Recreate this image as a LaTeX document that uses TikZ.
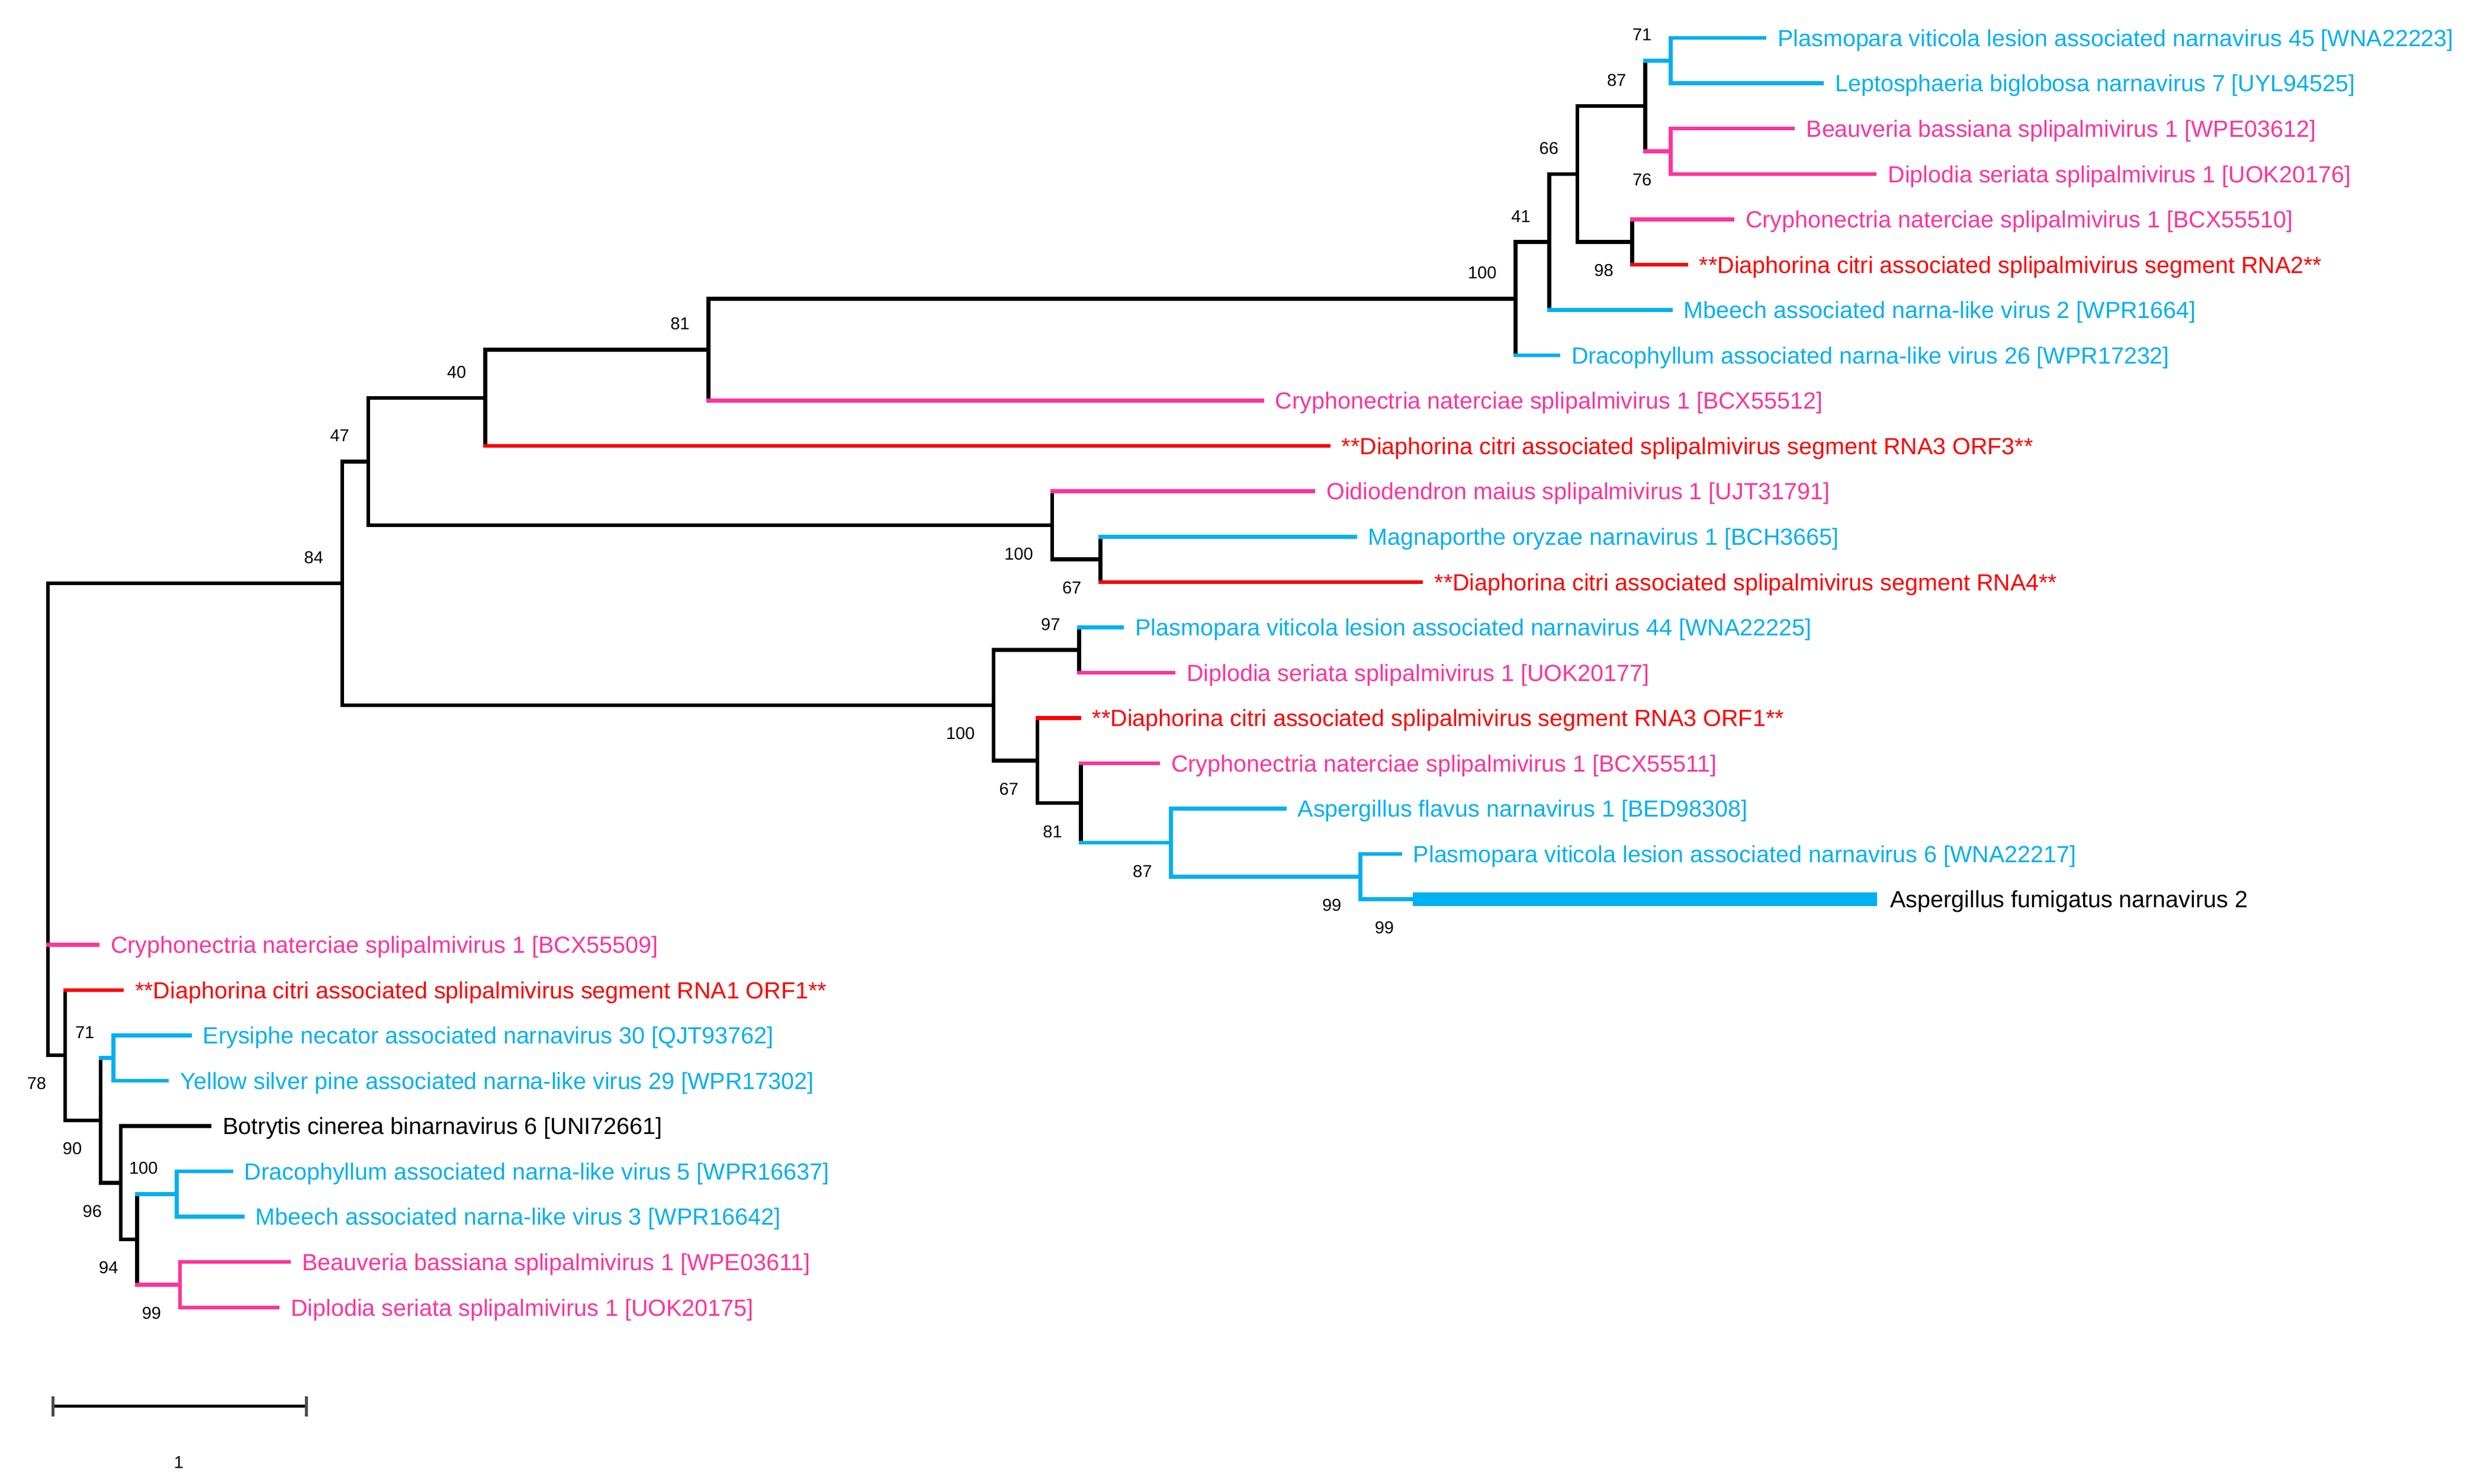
\documentclass[tikz,border=0pt]{standalone}
\usepackage{fontspec}
\setmainfont{Liberation Sans}
\definecolor{cb}{RGB}{0,176,240}
\definecolor{cp}{RGB}{255,51,153}
\definecolor{cr}{RGB}{255,0,0}
\newcommand\lf[5]{\coordinate (t#1) at (#2,#3);
  \node[lab,text=#4] (L#1) at ([xshift=4.3pt,yshift=-2.85pt]t#1) {#5};}
\newcommand\hbr[3]{\draw[br,#3] (#1 |- #2) -- (#2);}
\newcommand\vbr[4]{\draw[br,#4] (#1 |- #2) -- (#1 |- #3);}
\newcommand\bsa[2]{\node[bsl] (b#1) at ([xshift=-6.2pt,yshift=8.7pt]#1) {#2};}
\newcommand\bsb[2]{\node[bsl] (b#1) at ([xshift=-6.2pt,yshift=-9.6pt]#1) {#2};}
\begin{document}
\begin{tikzpicture}[x=0.5344pt,y=-0.5344pt,
  br/.style={line width=1.3pt,line cap=rect},
  lab/.style={font=\fontsize{7.9}{9}\selectfont,inner sep=0pt,anchor=base west},
  bsl/.style={font=\fontsize{5.8}{7}\selectfont,inner sep=0pt,anchor=east}]
\useasboundingbox (0,0) rectangle (1568,937.5);
% ---------- leaves ----------
\lf{1}{1115.1}{24.00}{cb}{Plasmopara viticola lesion associated narnavirus 45 [WNA22223]}
\lf{2}{1151.4}{52.65}{cb}{Leptosphaeria biglobosa narnavirus 7 [UYL94525]}
\lf{3}{1133.2}{81.30}{cp}{Beauveria bassiana splipalmivirus 1 [WPE03612]}
\lf{4}{1184.8}{109.95}{cp}{Diplodia seriata splipalmivirus 1 [UOK20176]}
\lf{5}{1094.9}{138.60}{cp}{Cryphonectria naterciae splipalmivirus 1 [BCX55510]}
\lf{6}{1065.5}{167.25}{cr}{**Diaphorina citri associated splipalmivirus segment RNA2**}
\lf{7}{1055.8}{195.90}{cb}{Mbeech associated narna-like virus 2 [WPR1664]}
\lf{8}{984.8}{224.55}{cb}{Dracophyllum associated narna-like virus 26 [WPR17232]}
\lf{9}{797.6}{253.20}{cp}{Cryphonectria naterciae splipalmivirus 1 [BCX55512]}
\lf{10}{839.5}{281.85}{cr}{**Diaphorina citri associated splipalmivirus segment RNA3 ORF3**}
\lf{11}{830.0}{310.50}{cp}{Oidiodendron maius splipalmivirus 1 [UJT31791]}
\lf{12}{856.4}{339.15}{cb}{Magnaporthe oryzae narnavirus 1 [BCH3665]}
\lf{13}{898.2}{367.80}{cr}{**Diaphorina citri associated splipalmivirus segment RNA4**}
\lf{14}{709.2}{396.45}{cb}{Plasmopara viticola lesion associated narnavirus 44 [WNA22225]}
\lf{15}{741.6}{425.10}{cp}{Diplodia seriata splipalmivirus 1 [UOK20177]}
\lf{16}{682.0}{453.75}{cr}{**Diaphorina citri associated splipalmivirus segment RNA3 ORF1**}
\lf{17}{731.9}{482.40}{cp}{Cryphonectria naterciae splipalmivirus 1 [BCX55511]}
\lf{18}{811.8}{511.05}{cb}{Aspergillus flavus narnavirus 1 [BED98308]}
\lf{19}{884.8}{539.70}{cb}{Plasmopara viticola lesion associated narnavirus 6 [WNA22217]}
\lf{20}{1186.3}{568.35}{black}{Aspergillus fumigatus narnavirus 2}
\lf{21}{61.6}{597.00}{cp}{Cryphonectria naterciae splipalmivirus 1 [BCX55509]}
\lf{22}{77.0}{625.65}{cr}{**Diaphorina citri associated splipalmivirus segment RNA1 ORF1**}
\lf{23}{119.9}{654.30}{cb}{Erysiphe necator associated narnavirus 30 [QJT93762]}
\lf{24}{105.6}{682.95}{cb}{Yellow silver pine associated narna-like virus 29 [WPR17302]}
\lf{25}{132.5}{711.60}{black}{Botrytis cinerea binarnavirus 6 [UNI72661]}
\lf{26}{146.1}{740.25}{cb}{Dracophyllum associated narna-like virus 5 [WPR16637]}
\lf{27}{153.2}{768.90}{cb}{Mbeech associated narna-like virus 3 [WPR16642]}
\lf{28}{182.6}{797.55}{cp}{Beauveria bassiana splipalmivirus 1 [WPE03611]}
\lf{29}{175.4}{826.20}{cp}{Diplodia seriata splipalmivirus 1 [UOK20175]}
% ---------- internal nodes ----------
\coordinate (n71) at (1055.8,38.33);
\coordinate (n76) at (1055.8,95.63);
\coordinate (n87) at (1039.7,66.98);
\coordinate (n98) at (1031.6,152.93);
\coordinate (n66) at (996.9,109.95);
\coordinate (n41) at (979.2,152.93);
\coordinate (n100a) at (957.8,188.74);
\coordinate (n81a) at (447.8,220.97);
\coordinate (n40) at (306.6,251.41);
\coordinate (n67a) at (695.4,353.48);
\coordinate (n100b) at (664.9,331.99);
\coordinate (n47) at (232.7,291.70);
\coordinate (n97) at (682.0,410.78);
\coordinate (n99c) at (892.9,568.35);
\coordinate (n99a) at (859.7,554.03);
\coordinate (n87b) at (740.0,532.54);
\coordinate (n81b) at (683.2,507.47);
\coordinate (n67b) at (655.6,480.61);
\coordinate (n100c) at (628.0,445.70);
\coordinate (n84) at (216.3,368.70);
\coordinate (root) at (30.4,518.0);
\coordinate (n78) at (41.2,666.84);
\coordinate (n90) at (63.7,708.03);
\coordinate (n71b) at (71.6,668.63);
\coordinate (n96) at (76.3,747.42);
\coordinate (n94) at (86.6,783.23);
\coordinate (n100d) at (111.7,754.58);
\coordinate (n99b) at (113.8,811.88);
% ---------- branches ----------
\vbr{n71}{t1}{t2}{cb} \hbr{n71}{t1}{cb} \hbr{n71}{t2}{cb}
\vbr{n76}{t3}{t4}{cp} \hbr{n76}{t3}{cp} \hbr{n76}{t4}{cp}
\vbr{n87}{n71}{n76}{black} \hbr{n87}{n71}{cb} \hbr{n87}{n76}{cp}
\vbr{n98}{t5}{t6}{black} \hbr{n98}{t5}{cp} \hbr{n98}{t6}{cr}
\vbr{n66}{n87}{n98}{black} \hbr{n66}{n87}{black} \hbr{n66}{n98}{black}
\vbr{n41}{n66}{t7}{black} \hbr{n41}{n66}{black} \hbr{n41}{t7}{cb}
\vbr{n100a}{n41}{t8}{black} \hbr{n100a}{n41}{black} \hbr{n100a}{t8}{cb}
\vbr{n81a}{n100a}{t9}{black} \hbr{n81a}{n100a}{black} \hbr{n81a}{t9}{cp}
\vbr{n40}{n81a}{t10}{black} \hbr{n40}{n81a}{black} \hbr{n40}{t10}{cr}
\vbr{n67a}{t12}{t13}{black} \hbr{n67a}{t12}{cb} \hbr{n67a}{t13}{cr}
\vbr{n100b}{t11}{n67a}{black} \hbr{n100b}{t11}{cp} \hbr{n100b}{n67a}{black}
\vbr{n47}{n40}{n100b}{black} \hbr{n47}{n40}{black} \hbr{n47}{n100b}{black}
\vbr{n97}{t14}{t15}{black} \hbr{n97}{t14}{cb} \hbr{n97}{t15}{cp}
\vbr{n99a}{t19}{n99c}{cb} \hbr{n99a}{t19}{cb} \hbr{n99a}{n99c}{cb}
\fill[cb] ([yshift=2.3pt]n99c) rectangle ([yshift=-2.3pt]t20);
\vbr{n87b}{t18}{n99a}{cb} \hbr{n87b}{t18}{cb} \hbr{n87b}{n99a}{cb}
\vbr{n81b}{t17}{n87b}{black} \hbr{n81b}{t17}{cp} \hbr{n81b}{n87b}{cb}
\vbr{n67b}{t16}{n81b}{black} \hbr{n67b}{t16}{cr} \hbr{n67b}{n81b}{black}
\vbr{n100c}{n97}{n67b}{black} \hbr{n100c}{n97}{black} \hbr{n100c}{n67b}{black}
\vbr{n84}{n47}{n100c}{black} \hbr{n84}{n47}{black} \hbr{n84}{n100c}{black}
\vbr{root}{n84}{n78}{black} \hbr{root}{n84}{black} \hbr{root}{t21}{cp} \hbr{root}{n78}{black}
\vbr{n78}{t22}{n90}{black} \hbr{n78}{t22}{cr} \hbr{n78}{n90}{black}
\vbr{n90}{n71b}{n96}{black} \hbr{n90}{n71b}{cb} \hbr{n90}{n96}{black}
\vbr{n71b}{t23}{t24}{cb} \hbr{n71b}{t23}{cb} \hbr{n71b}{t24}{cb}
\vbr{n96}{t25}{n94}{black} \hbr{n96}{t25}{black} \hbr{n96}{n94}{black}
\vbr{n94}{n100d}{n99b}{black} \hbr{n94}{n100d}{cb} \hbr{n94}{n99b}{cp}
\vbr{n100d}{t26}{t27}{cb} \hbr{n100d}{t26}{cb} \hbr{n100d}{t27}{cb}
\vbr{n99b}{t28}{t29}{cp} \hbr{n99b}{t28}{cp} \hbr{n99b}{t29}{cp}
% ---------- bootstrap values ----------
\bsa{n71}{71} \bsa{n87}{87} \bsa{n66}{66} \bsa{n41}{41} \bsa{n100a}{100}
\bsb{n76}{76} \bsb{n98}{98}
\bsa{n81a}{81} \bsa{n40}{40} \bsa{n47}{47} \bsa{n84}{84}
\bsb{n100b}{100} \bsb{n67a}{67}
\bsa{n97}{97} \bsb{n100c}{100} \bsb{n67b}{67} \bsb{n81b}{81} \bsb{n87b}{87}
\bsb{n99a}{99} \bsb{n99c}{99}
\bsb{n78}{78} \bsa{n71b}{71} \bsb{n90}{90} \bsa{n100d}{100} \bsb{n96}{96}
\bsb{n94}{94} \bsb{n99b}{99}
% ---------- scale bar ----------
\coordinate (sb1) at (33.4,888.6);
\coordinate (sb2) at (193.8,888.6);
\draw[line width=0.9pt] (sb1) -- (sb2);
\draw[line width=1.0pt,black!70] ([yshift=3.4pt]sb1) -- ([yshift=-3.4pt]sb1);
\draw[line width=1.0pt,black!70] ([yshift=3.4pt]sb2) -- ([yshift=-3.4pt]sb2);
\node[font=\fontsize{5.8}{7}\selectfont,inner sep=0pt] (sblab) at (113,924) {1};
\end{tikzpicture}
\end{document}
